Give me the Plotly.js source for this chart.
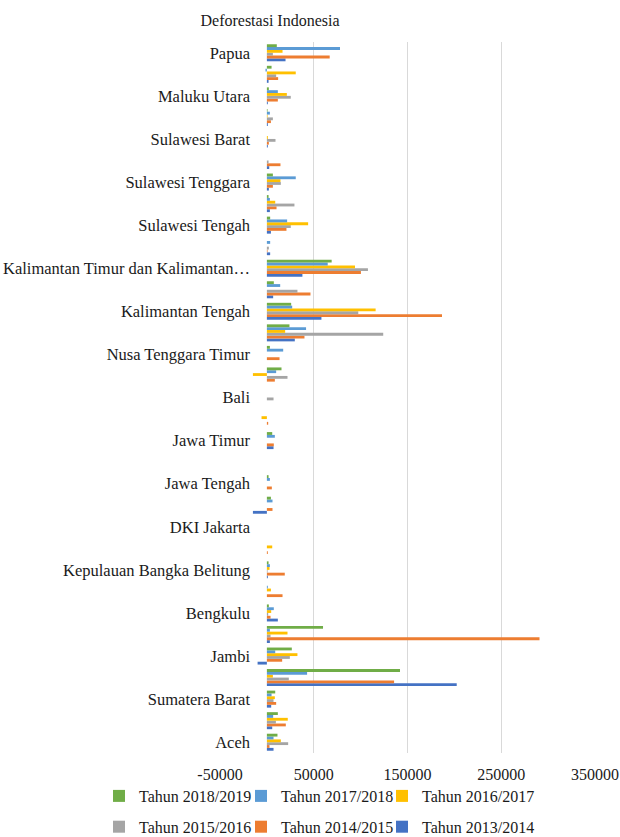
<!DOCTYPE html>
<html>
<head>
<meta charset="utf-8">
<script src="https://cdn.plot.ly/plotly-3.0.1.min.js"></script>
<style>html,body{margin:0;padding:0;background:#fff;}#chart{width:620px;height:837px;}</style>
</head>
<body>
<div id="chart"></div>
<script>
// Categories, bottom (Aceh) to top (Papua)
var provinces = [
  "Aceh", "Sumatera Utara", "Sumatera Barat", "Riau", "Jambi", "Sumatera Selatan",
  "Bengkulu", "Lampung", "Kepulauan Bangka Belitung", "Kepulauan Riau", "DKI Jakarta",
  "Jawa Barat", "Jawa Tengah", "DI Yogyakarta", "Jawa Timur", "Banten", "Bali",
  "Nusa Tenggara Barat", "Nusa Tenggara Timur", "Kalimantan Barat", "Kalimantan Tengah",
  "Kalimantan Selatan", "Kalimantan Timur dan Kalimantan Utara", "Sulawesi Utara",
  "Sulawesi Tengah", "Sulawesi Selatan", "Sulawesi Tenggara", "Gorontalo",
  "Sulawesi Barat", "Maluku", "Maluku Utara", "Papua Barat", "Papua"
];

// Shown tick labels (every other category)
var tickCategories = [
  "Aceh", "Sumatera Barat", "Jambi", "Bengkulu", "Kepulauan Bangka Belitung", "DKI Jakarta",
  "Jawa Tengah", "Jawa Timur", "Bali", "Nusa Tenggara Timur", "Kalimantan Tengah",
  "Kalimantan Timur dan Kalimantan Utara", "Sulawesi Tengah", "Sulawesi Tenggara",
  "Sulawesi Barat", "Maluku Utara", "Papua"
];
var tickLabels = [
  "Aceh", "Sumatera Barat", "Jambi", "Bengkulu", "Kepulauan Bangka Belitung", "DKI Jakarta",
  "Jawa Tengah", "Jawa Timur", "Bali", "Nusa Tenggara Timur", "Kalimantan Tengah",
  "Kalimantan Timur dan Kalimantan\u2026", "Sulawesi Tengah", "Sulawesi Tenggara",
  "Sulawesi Barat", "Maluku Utara", "Papua"
];

var xTickValues = [-50000, 50000, 150000, 250000, 350000];

var seriesNames = ["Tahun 2013/2014", "Tahun 2014/2015", "Tahun 2015/2016",
                   "Tahun 2016/2017", "Tahun 2017/2018", "Tahun 2018/2019"];

var tahun2013_2014 = [7100, 5700, 4600, 202500, -9900, 3200, 11700, 0, 1000, 0, 0,
  -14900, 0, 0, 7100, 0, 0, 0, 0, 29800, 58200, 6700, 37900, 3500, 4300, 3200, 2100,
  2500, 1000, 1000, 1000, 1800, 19900];
var tahun2014_2015 = [2800, 20200, 9900, 135700, 16300, 290800, 3900, 16700, 19100, 1000, 0,
  6000, 5300, 0, 7400, 1400, 0, 8500, 13500, 40100, 186800, 46500, 100300, 700, 20900, 10300,
  6400, 14500, 2100, 4300, 11700, 12000, 67000];
var tahun2015_2016 = [22700, 9600, 7100, 23400, 24500, 3900, 1400, 0, 700, 0, 0,
  0, 0, 0, 0, 0, 7100, 22000, 0, 124100, 97500, 32600, 107800, 2100, 25500, 29400,
  14900, 1800, 9200, 6400, 25500, 9900, 6400];
var tahun2016_2017 = [14900, 22300, 8500, 6400, 32600, 22000, 4600, 4300, 2800, 5700, 0,
  0, 0, 0, 0, -5700, 0, -14900, 0, 19500, 116000, 0, 94000, 0, 44000, 8900,
  14500, 0, 1000, 700, 21300, 30800, 16700];
var tahun2017_2018 = [7100, 6700, 5000, 42900, 8900, 3200, 7400, 1000, 3200, 0, 0,
  6000, 3200, 0, 8500, 0, 0, 9900, 17400, 41800, 27000, 14200, 64900, 3500, 21600, 3200,
  30800, 0, 0, 3200, 11700, -1500, 78000];
var tahun2018_2019 = [11300, 11700, 8900, 142000, 26600, 59900, 2100, 0, 1800, 0, 0,
  4300, 1800, 0, 5700, 0, 0, 15600, 3200, 24100, 25900, 7400, 69100, 0, 3500, 1800,
  6400, 0, 0, 700, 2100, 5000, 10600];

var seriesValues = [tahun2013_2014, tahun2014_2015, tahun2015_2016,
                    tahun2016_2017, tahun2017_2018, tahun2018_2019];
var seriesColors = ["#4472C4", "#ED7D31", "#A5A5A5", "#FFC000", "#5B9BD5", "#70AD47"];
// legend columns: column 1 = 2018/19 & 2015/16, column 2 = 2017/18 & 2014/15, column 3 = 2016/17 & 2013/14
var seriesLegend = ["legend3", "legend2", "legend", "legend3", "legend2", "legend"];
var seriesRank = [2, 2, 2, 1, 1, 1];

var FONT = "Liberation Serif";
var TXT = "#1a1a1a";

var traces = seriesNames.map(function (name, i) {
  return {
    type: "bar",
    orientation: "h",
    name: name,
    y: provinces,
    x: seriesValues[i],
    marker: { color: seriesColors[i] },
    legend: seriesLegend[i],
    legendgroup: "g" + i,
    legendrank: seriesRank[i],
    hoverinfo: "x+y+name"
  };
});

var PLOT_L = 220, PLOT_W = 375;
function legendAt(xpx) {
  return {
    orientation: "v",
    xref: "paper", yref: "container",
    xanchor: "left", yanchor: "top",
    x: (xpx - PLOT_L) / PLOT_W, y: 1 - 779 / 837,
    traceorder: "grouped",
    tracegroupgap: 7,
    itemwidth: 30,
    bgcolor: "rgba(0,0,0,0)",
    font: { family: FONT, size: 16, color: TXT }
  };
}

var layout = {
  width: 620, height: 837,
  paper_bgcolor: "#fff", plot_bgcolor: "#fff",
  font: { family: FONT, size: 16, color: TXT },
  margin: { l: PLOT_L, r: 620 - PLOT_L - PLOT_W, t: 42, b: 84 },
  title: {
    text: "Deforestasi Indonesia",
    font: { family: FONT, size: 16, color: TXT },
    x: 270 / 620, xanchor: "center", xref: "container",
    y: 1 - 20 / 837, yanchor: "middle", yref: "container"
  },
  barmode: "group",
  bargap: 0.21,
  bargroupgap: 0,
  xaxis: {
    range: [-50000, 350000],
    tickmode: "array",
    tickvals: xTickValues,
    ticktext: xTickValues.map(String),
    showgrid: true, gridcolor: "#d9d9d9", gridwidth: 1,
    zeroline: false, showline: false,
    ticks: "", ticklabelstandoff: 10,
    tickfont: { family: FONT, size: 16, color: TXT },
    automargin: false, fixedrange: true
  },
  yaxis: {
    type: "category",
    categoryorder: "array", categoryarray: provinces,
    range: [-0.5, provinces.length - 0.5],
    tickmode: "array", tickvals: tickCategories, ticktext: tickLabels,
    anchor: "free", position: 30 / PLOT_W,
    showgrid: false, zeroline: false, showline: false, ticks: "",
    tickfont: { family: FONT, size: 16.5, color: TXT },
    automargin: false, fixedrange: true
  },
  legend: legendAt(99),
  legend2: legendAt(241),
  legend3: legendAt(382),
  showlegend: true
};

Plotly.newPlot("chart", traces, layout, { displayModeBar: false, staticPlot: true });
</script>
</body>
</html>
